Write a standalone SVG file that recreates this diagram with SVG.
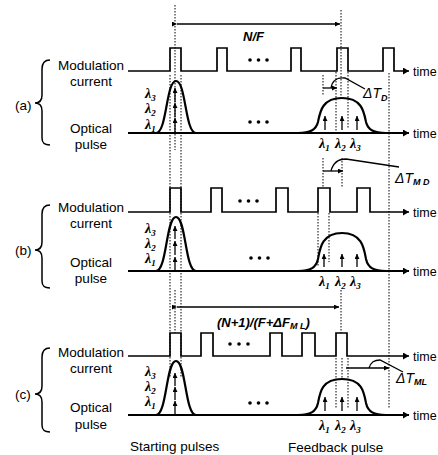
<svg xmlns="http://www.w3.org/2000/svg" width="438" height="455" viewBox="0 0 438 455">
<defs>
<marker id="ah" markerWidth="8" markerHeight="8" refX="6" refY="3.5" orient="auto" markerUnits="userSpaceOnUse"><path d="M0,0 L6,3.5 L0,7 z" fill="#000"/></marker>
<marker id="sa" markerWidth="6" markerHeight="6" refX="5" refY="2.5" orient="auto" markerUnits="userSpaceOnUse"><path d="M0,0 L5,2.5 L0,5 z" fill="#000"/></marker>
</defs>
<style>
.lbl{font-family:"Liberation Sans",Arial,sans-serif;font-size:13.5px;fill:#000}
.tm{font-family:"Liberation Sans",Arial,sans-serif;font-size:12.5px;fill:#000}
.ctr{text-anchor:middle}
.wave{fill:none;stroke:#000;stroke-width:1.7}
.opt{fill:none;stroke:#000;stroke-width:2.2}
.base{fill:none;stroke:#000;stroke-width:1.8}
.dot{stroke:#000;stroke-width:1;stroke-dasharray:1.5 1.5;fill:none}
.thin{stroke:#000;stroke-width:1.3;fill:none}
.sarr{stroke:#000;stroke-width:1.3;fill:none}
.lam{font-family:"Liberation Serif",serif;font-weight:bold;font-style:italic;font-size:14px;fill:#000}
.sub{font-size:9px}
.it{font-family:"Liberation Sans",Arial,sans-serif;font-style:italic;font-size:14px;fill:#000}
.bi{font-family:"Liberation Sans",Arial,sans-serif;font-style:italic;font-weight:bold;font-size:13px;fill:#000}
.brace{fill:none;stroke:#000;stroke-width:1.5}
.dt{fill:#000}
</style>

<g id="guides">
<line class="dot" x1="175" y1="5" x2="175" y2="150"/>
<line class="dot" x1="175" y1="290" x2="175" y2="333"/>
<line class="dot" x1="170" y1="75" x2="170" y2="378"/>
<line class="dot" x1="181" y1="75" x2="181" y2="378"/>
<line class="dot" x1="341" y1="10" x2="341" y2="98"/>
<line class="dot" x1="389" y1="73" x2="389" y2="408"/>
<line class="dot" x1="323" y1="75" x2="323" y2="95"/>
<line class="dot" x1="336" y1="72" x2="336" y2="133"/>
<line class="dot" x1="348" y1="72" x2="348" y2="128"/>
<line class="dot" x1="323" y1="158" x2="323" y2="188"/>
<line class="dot" x1="342" y1="158" x2="342" y2="187"/>
<line class="dot" x1="318" y1="213" x2="318" y2="266"/>
<line class="dot" x1="329" y1="213" x2="329" y2="262"/>
<line class="dot" x1="341" y1="290" x2="341" y2="333"/>
<line class="dot" x1="336" y1="358" x2="336" y2="408"/>
<line class="dot" x1="342" y1="358" x2="342" y2="380"/>
<line class="dot" x1="348" y1="358" x2="348" y2="408"/>
</g>

<g id="panel-a">
<path class="brace" d="M50,60 C44,60 42,63 42,69 L42,95 C42,100 40,103 35,103 C40,103 42,106 42,111 L42,138 C42,143 44,145 50,145"/>
<text class="lbl" x="15" y="110">(a)</text>
<text class="lbl ctr" x="91" y="70">Modulation</text>
<text class="lbl ctr" x="91" y="86">current</text>
<text class="lbl ctr" x="91" y="133">Optical</text>
<text class="lbl ctr" x="91" y="149">pulse</text>
<path class="wave" d="M128,71 H170 V48 H181 V71 H217 V48 H227 V71 H291 V48 H301 V71 H337 V48 H348 V71 H383 V48 H394 V71 H409" marker-end="url(#ah)"/>
<text class="tm" x="413" y="76">time</text>
<path class="base" d="M128,133 H409" marker-end="url(#ah)"/>
<text class="tm" x="413" y="138">time</text>
<path class="opt" d="M156,133 C167,133 166,81 176,81 C186,81 185,133 196,133"/>
<path class="opt" d="M298,133 C310,133 316,130 318,122 C320,112 322,98 342,98 C362,98 364,112 366,122 C368,130 374,133 386,133"/>
<circle class="dt" cx="250" cy="60" r="1.8"/><circle class="dt" cx="258.5" cy="60" r="1.8"/><circle class="dt" cx="267" cy="60" r="1.8"/>
<circle class="dt" cx="250" cy="122" r="1.8"/><circle class="dt" cx="258.5" cy="122" r="1.8"/><circle class="dt" cx="267" cy="122" r="1.8"/>
<line class="sarr" x1="175" y1="132" x2="175" y2="118" marker-end="url(#sa)"/>
<line class="sarr" x1="175" y1="117" x2="175" y2="103" marker-end="url(#sa)"/>
<line class="sarr" x1="175" y1="102" x2="175" y2="88" marker-end="url(#sa)"/>
<line class="sarr" x1="325" y1="130" x2="325" y2="116" marker-end="url(#sa)"/>
<line class="sarr" x1="342" y1="130" x2="342" y2="116" marker-end="url(#sa)"/>
<line class="sarr" x1="357" y1="130" x2="357" y2="116" marker-end="url(#sa)"/>
<text class="lam" x="145" y="98">λ<tspan class="sub" dy="3">3</tspan></text>
<text class="lam" x="145" y="113">λ<tspan class="sub" dy="3">2</tspan></text>
<text class="lam" x="145" y="129">λ<tspan class="sub" dy="3">1</tspan></text>
<text class="lam" x="319" y="148">λ<tspan class="sub" dy="3">1</tspan></text>
<text class="lam" x="335" y="148">λ<tspan class="sub" dy="3">2</tspan></text>
<text class="lam" x="350" y="148">λ<tspan class="sub" dy="3">3</tspan></text>
<line class="thin" x1="177" y1="24" x2="340" y2="24" marker-start="url(#sa)" marker-end="url(#sa)"/>
<text class="bi" x="243" y="41">N/F</text>
<line class="thin" x1="323" y1="88" x2="337" y2="88" marker-end="url(#sa)"/>
<path class="thin" d="M331,88 C332,81 337,77 345,78 L365,89"/>
<text class="it" x="363" y="98">ΔT<tspan class="sub" font-size="10" font-weight="bold" dy="3">D</tspan></text>
</g>

<g id="panel-b">
<path class="brace" d="M50,205 C44,205 42,208 42,214 L42,242 C42,247 40,250 35,250 C40,250 42,253 42,258 L42,281 C42,286 44,288 50,288"/>
<text class="lbl" x="15" y="255">(b)</text>
<text class="lbl ctr" x="91" y="212">Modulation</text>
<text class="lbl ctr" x="91" y="228">current</text>
<text class="lbl ctr" x="91" y="267">Optical</text>
<text class="lbl ctr" x="91" y="283">pulse</text>
<path class="wave" d="M128,212 H170 V188 H181 V212 H211 V188 H222 V212 H276 V188 H288 V212 H318 V188 H330 V212 H357 V188 H370 V212 H409" marker-end="url(#ah)"/>
<text class="tm" x="413" y="217">time</text>
<path class="base" d="M128,271 H409" marker-end="url(#ah)"/>
<text class="tm" x="413" y="276">time</text>
<path class="opt" d="M156,271 C167,271 166,217 176,217 C186,217 185,271 196,271"/>
<path class="opt" d="M298,271 C310,271 316,268 318,259 C320,248 322,233 342,233 C362,233 364,248 366,259 C368,268 374,271 386,271"/>
<circle class="dt" cx="240" cy="201" r="1.8"/><circle class="dt" cx="248.5" cy="201" r="1.8"/><circle class="dt" cx="257" cy="201" r="1.8"/>
<circle class="dt" cx="251" cy="258" r="1.8"/><circle class="dt" cx="259.5" cy="258" r="1.8"/><circle class="dt" cx="268" cy="258" r="1.8"/>
<line class="sarr" x1="175" y1="270" x2="175" y2="257" marker-end="url(#sa)"/>
<line class="sarr" x1="175" y1="255" x2="175" y2="241" marker-end="url(#sa)"/>
<line class="sarr" x1="175" y1="239" x2="175" y2="226" marker-end="url(#sa)"/>
<line class="sarr" x1="324" y1="267" x2="324" y2="254" marker-end="url(#sa)"/>
<line class="sarr" x1="342" y1="267" x2="342" y2="254" marker-end="url(#sa)"/>
<line class="sarr" x1="357" y1="267" x2="357" y2="254" marker-end="url(#sa)"/>
<text class="lam" x="145" y="233">λ<tspan class="sub" dy="3">3</tspan></text>
<text class="lam" x="145" y="248">λ<tspan class="sub" dy="3">2</tspan></text>
<text class="lam" x="145" y="263">λ<tspan class="sub" dy="3">1</tspan></text>
<text class="lam" x="319" y="286">λ<tspan class="sub" dy="3">1</tspan></text>
<text class="lam" x="335" y="286">λ<tspan class="sub" dy="3">2</tspan></text>
<text class="lam" x="350" y="286">λ<tspan class="sub" dy="3">3</tspan></text>
<line class="thin" x1="323" y1="171" x2="343" y2="171" marker-end="url(#sa)"/>
<path class="thin" d="M331,171 C333,163 338,159 346,159 L399,167"/>
<text class="it" x="395" y="183">ΔT<tspan class="sub" font-size="10" font-weight="bold" dy="2">M D</tspan></text>
</g>

<g id="panel-c">
<path class="brace" d="M50,348 C44,348 42,351 42,357 L42,386 C42,391 40,394 35,394 C40,394 42,397 42,402 L42,425 C42,430 44,432 50,432"/>
<text class="lbl" x="15" y="399">(c)</text>
<text class="lbl ctr" x="91" y="357">Modulation</text>
<text class="lbl ctr" x="91" y="373">current</text>
<text class="lbl ctr" x="91" y="412">Optical</text>
<text class="lbl ctr" x="91" y="429">pulse</text>
<path class="wave" d="M128,356 H170 V333 H181 V356 H201 V333 H213 V356 H270 V333 H282 V356 H302 V333 H315 V356 H336 V333 H347 V356 H409" marker-end="url(#ah)"/>
<text class="tm" x="413" y="361">time</text>
<path class="base" d="M128,415 H409" marker-end="url(#ah)"/>
<text class="tm" x="413" y="420">time</text>
<path class="opt" d="M156,415 C167,415 166,361 176,361 C186,361 185,415 196,415"/>
<path class="opt" d="M298,415 C310,415 316,412 318,403 C320,392 322,379 342,379 C362,379 364,392 366,403 C368,412 374,415 386,415"/>
<circle class="dt" cx="230" cy="344" r="1.8"/><circle class="dt" cx="239" cy="344" r="1.8"/><circle class="dt" cx="248" cy="344" r="1.8"/>
<circle class="dt" cx="250" cy="403" r="1.8"/><circle class="dt" cx="258.5" cy="403" r="1.8"/><circle class="dt" cx="267" cy="403" r="1.8"/>
<line class="sarr" x1="175" y1="414" x2="175" y2="401" marker-end="url(#sa)"/>
<line class="sarr" x1="175" y1="400" x2="175" y2="387" marker-end="url(#sa)"/>
<line class="sarr" x1="175" y1="386" x2="175" y2="373" marker-end="url(#sa)"/>
<line class="sarr" x1="325" y1="411" x2="325" y2="397" marker-end="url(#sa)"/>
<line class="sarr" x1="342" y1="411" x2="342" y2="397" marker-end="url(#sa)"/>
<line class="sarr" x1="357" y1="411" x2="357" y2="397" marker-end="url(#sa)"/>
<text class="lam" x="145" y="376">λ<tspan class="sub" dy="3">3</tspan></text>
<text class="lam" x="145" y="391">λ<tspan class="sub" dy="3">2</tspan></text>
<text class="lam" x="145" y="406">λ<tspan class="sub" dy="3">1</tspan></text>
<text class="lam" x="319" y="430">λ<tspan class="sub" dy="3">1</tspan></text>
<text class="lam" x="335" y="430">λ<tspan class="sub" dy="3">2</tspan></text>
<text class="lam" x="350" y="430">λ<tspan class="sub" dy="3">3</tspan></text>
<line class="thin" x1="177" y1="307" x2="339" y2="307" marker-start="url(#sa)" marker-end="url(#sa)"/>
<text class="bi" x="217" y="327">(N+1)/(F+ΔF<tspan class="sub" dy="2">M L</tspan><tspan dy="-2">)</tspan></text>
<line class="thin" x1="346" y1="368" x2="389" y2="368" marker-end="url(#sa)"/>
<path class="thin" d="M369,368 C371,362 374,360 380,360 L403,372"/>
<text class="it" x="396" y="383">ΔT<tspan class="sub" font-size="10" font-weight="bold" dy="2">ML</tspan></text>
<text class="lbl" x="130" y="451">Starting pulses</text>
<text class="lbl" x="288" y="452">Feedback pulse</text>
</g>
</svg>
